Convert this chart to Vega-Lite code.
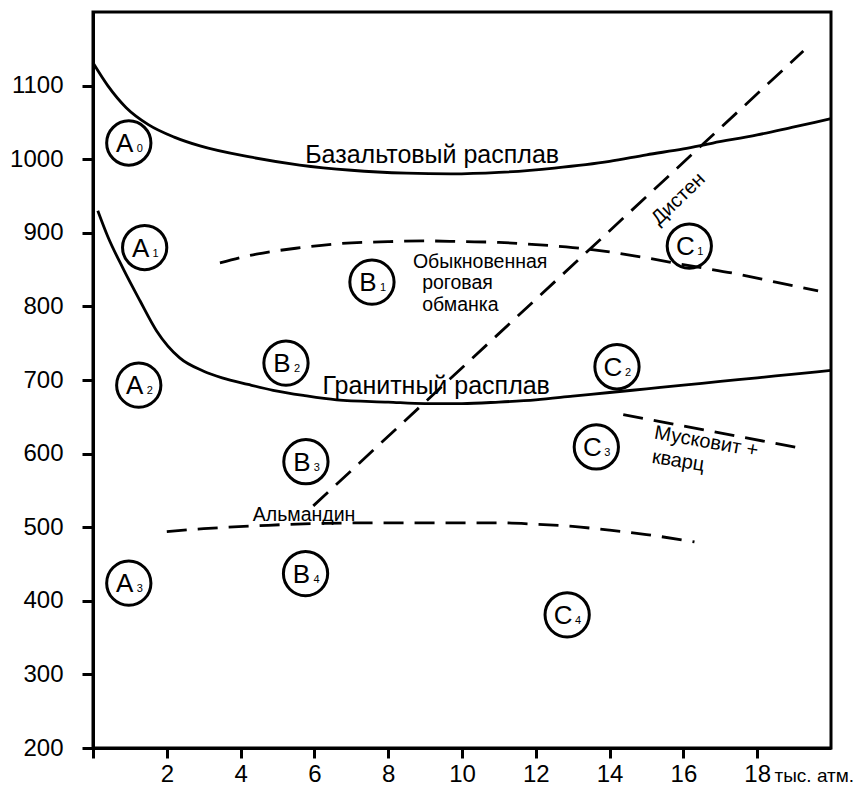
{
  "$schema": "https://vega.github.io/schema/vega-lite/v6.json",
  "width": 738,
  "height": 736,
  "autosize": {"type": "none"},
  "padding": {"left": 93, "top": 12, "right": 37, "bottom": 38},
  "background": "white",
  "config": {
    "font": "Liberation Sans",
    "view": {"stroke": "black", "strokeWidth": 3},
    "axis": {
      "domainColor": "black",
      "domainWidth": 3,
      "tickColor": "black",
      "tickWidth": 3,
      "labelColor": "black",
      "labelFont": "Liberation Sans",
      "labelFontSize": 24,
      "grid": false,
      "titleColor": "black",
      "labelOverlap": false
    }
  },
  "datasets": {
    "melts": [
      {"curve": "basalt", "p": 0, "t": 1131},
      {"curve": "basalt", "p": 0.4, "t": 1100},
      {"curve": "basalt", "p": 0.9, "t": 1070},
      {"curve": "basalt", "p": 1.5, "t": 1047},
      {"curve": "basalt", "p": 2.2, "t": 1030},
      {"curve": "basalt", "p": 2.9, "t": 1018},
      {"curve": "basalt", "p": 4.25, "t": 1003},
      {"curve": "basalt", "p": 5.6, "t": 992},
      {"curve": "basalt", "p": 7, "t": 985},
      {"curve": "basalt", "p": 8.5, "t": 981},
      {"curve": "basalt", "p": 9.7, "t": 980},
      {"curve": "basalt", "p": 11, "t": 982},
      {"curve": "basalt", "p": 12.5, "t": 988},
      {"curve": "basalt", "p": 14, "t": 997},
      {"curve": "basalt", "p": 15, "t": 1006},
      {"curve": "basalt", "p": 16, "t": 1014},
      {"curve": "basalt", "p": 16.8, "t": 1022},
      {"curve": "basalt", "p": 18, "t": 1033},
      {"curve": "basalt", "p": 19, "t": 1044},
      {"curve": "basalt", "p": 20, "t": 1055},
      {"curve": "granite", "p": 0.13, "t": 930},
      {"curve": "granite", "p": 0.4, "t": 895},
      {"curve": "granite", "p": 0.81, "t": 852},
      {"curve": "granite", "p": 1.27, "t": 808},
      {"curve": "granite", "p": 1.72, "t": 767},
      {"curve": "granite", "p": 2.35, "t": 730},
      {"curve": "granite", "p": 3, "t": 712},
      {"curve": "granite", "p": 3.5, "t": 703},
      {"curve": "granite", "p": 4.2, "t": 694},
      {"curve": "granite", "p": 4.88, "t": 686},
      {"curve": "granite", "p": 5.7, "t": 679},
      {"curve": "granite", "p": 6.6, "t": 673},
      {"curve": "granite", "p": 8, "t": 670},
      {"curve": "granite", "p": 9, "t": 668},
      {"curve": "granite", "p": 10, "t": 668},
      {"curve": "granite", "p": 11, "t": 670},
      {"curve": "granite", "p": 12, "t": 673},
      {"curve": "granite", "p": 13, "t": 678},
      {"curve": "granite", "p": 14, "t": 683},
      {"curve": "granite", "p": 15, "t": 688},
      {"curve": "granite", "p": 16, "t": 693},
      {"curve": "granite", "p": 17, "t": 698},
      {"curve": "granite", "p": 18, "t": 703},
      {"curve": "granite", "p": 19, "t": 708},
      {"curve": "granite", "p": 20, "t": 713}
    ],
    "boundaries": [
      {"curve": "hornblende", "p": 3.44, "t": 859},
      {"curve": "hornblende", "p": 4.43, "t": 871},
      {"curve": "hornblende", "p": 5.5, "t": 879},
      {"curve": "hornblende", "p": 6.6, "t": 885},
      {"curve": "hornblende", "p": 8, "t": 888},
      {"curve": "hornblende", "p": 9, "t": 889},
      {"curve": "hornblende", "p": 10, "t": 888},
      {"curve": "hornblende", "p": 11, "t": 887},
      {"curve": "hornblende", "p": 12, "t": 884},
      {"curve": "hornblende", "p": 13, "t": 880},
      {"curve": "hornblende", "p": 14, "t": 874},
      {"curve": "hornblende", "p": 15.1, "t": 865},
      {"curve": "hornblende", "p": 16.2, "t": 855},
      {"curve": "hornblende", "p": 17.46, "t": 844},
      {"curve": "hornblende", "p": 18.5, "t": 833},
      {"curve": "hornblende", "p": 19.65, "t": 821},
      {"curve": "disthene", "p": 5.97, "t": 529},
      {"curve": "disthene", "p": 19.25, "t": 1147},
      {"curve": "almandine", "p": 2, "t": 494},
      {"curve": "almandine", "p": 3, "t": 498},
      {"curve": "almandine", "p": 4.5, "t": 502},
      {"curve": "almandine", "p": 6, "t": 505},
      {"curve": "almandine", "p": 8, "t": 506},
      {"curve": "almandine", "p": 10, "t": 506},
      {"curve": "almandine", "p": 11, "t": 506},
      {"curve": "almandine", "p": 12, "t": 504},
      {"curve": "almandine", "p": 13, "t": 501},
      {"curve": "almandine", "p": 14, "t": 496},
      {"curve": "almandine", "p": 15, "t": 490},
      {"curve": "almandine", "p": 16.3, "t": 480},
      {"curve": "muscovite", "p": 14.37, "t": 653},
      {"curve": "muscovite", "p": 19.22, "t": 607}
    ],
    "samples": [
      {"letter": "A", "sub": "0", "p": 0.97, "t": 1022},
      {"letter": "A", "sub": "1", "p": 1.4, "t": 880},
      {"letter": "A", "sub": "2", "p": 1.24, "t": 693},
      {"letter": "A", "sub": "3", "p": 0.97, "t": 424},
      {"letter": "B", "sub": "1", "p": 7.56, "t": 833},
      {"letter": "B", "sub": "2", "p": 5.23, "t": 723},
      {"letter": "B", "sub": "3", "p": 5.77, "t": 589},
      {"letter": "B", "sub": "4", "p": 5.76, "t": 437},
      {"letter": "C", "sub": "1", "p": 16.16, "t": 882},
      {"letter": "C", "sub": "2", "p": 14.2, "t": 718},
      {"letter": "C", "sub": "3", "p": 13.64, "t": 609},
      {"letter": "C", "sub": "4", "p": 12.85, "t": 381}
    ],
    "labels": [
      {"group": "melt", "text": "Базальтовый расплав", "p": 9.19, "t": 995},
      {"group": "melt", "text": "Гранитный расплав", "p": 9.3, "t": 681},
      {"group": "mineral", "text": "Обыкновенная", "p": 8.67, "t": 852},
      {"group": "mineral", "text": "роговая", "p": 8.92, "t": 824},
      {"group": "mineral", "text": "обманка", "p": 8.92, "t": 794},
      {"group": "mineral", "text": "Альмандин", "p": 4.33, "t": 509},
      {"group": "disthene", "text": "Дистен", "p": 15.86, "t": 946},
      {"group": "muscovite1", "text": "Мусковит +", "p": 16.62, "t": 616},
      {"group": "muscovite2", "text": "кварц", "p": 15.86, "t": 590}
    ]
  },
  "encoding": {
    "x": {
      "field": "p",
      "type": "quantitative",
      "scale": {"domain": [0, 20], "nice": false, "zero": false},
      "axis": {
        "values": [0, 2, 4, 6, 8, 10, 12, 14, 16, 18],
        "labelExpr": "datum.value == 0 ? '' : datum.label",
        "tickSize": 10,
        "tickWidth": 3,
        "domainWidth": 3,
        "labelPadding": 4,
        "labelFlush": false,
        "title": "тыс. атм.",
        "titleFontSize": 19,
        "titleFontWeight": "normal",
        "titleX": 681,
        "titleY": 33,
        "titleAlign": "left",
        "titleBaseline": "alphabetic"
      }
    },
    "y": {
      "field": "t",
      "type": "quantitative",
      "scale": {"domain": [200, 1200], "nice": false, "zero": false},
      "axis": {
        "values": [200, 300, 400, 500, 600, 700, 800, 900, 1000, 1100],
        "format": "d",
        "tickSize": 11,
        "tickWidth": 3,
        "domainWidth": 3,
        "labelPadding": 19,
        "title": null
      }
    }
  },
  "layer": [
    {
      "data": {"name": "melts"},
      "mark": {"type": "line", "color": "black", "strokeWidth": 2.8, "interpolate": "monotone"},
      "encoding": {"detail": {"field": "curve"}}
    },
    {
      "data": {"name": "boundaries"},
      "mark": {"type": "line", "color": "black", "strokeWidth": 2.8, "interpolate": "monotone", "strokeDash": [20, 11], "strokeCap": "butt"},
      "encoding": {"detail": {"field": "curve"}}
    },
    {
      "data": {"name": "samples"},
      "mark": {"type": "point", "shape": "circle", "size": 1960, "filled": false, "color": "black", "strokeWidth": 3, "opacity": 1}
    },
    {
      "data": {"name": "samples"},
      "mark": {"type": "text", "fontSize": 26, "dx": -4, "dy": 9, "align": "center", "baseline": "alphabetic", "color": "black"},
      "encoding": {"text": {"field": "letter"}}
    },
    {
      "data": {"name": "samples"},
      "mark": {"type": "text", "fontSize": 11, "dx": 11, "dy": 9, "align": "center", "baseline": "alphabetic", "color": "black"},
      "encoding": {"text": {"field": "sub"}}
    },
    {
      "data": {"name": "labels"},
      "transform": [{"filter": "datum.group == 'melt'"}],
      "mark": {"type": "text", "fontSize": 25, "align": "center", "baseline": "alphabetic", "color": "black"},
      "encoding": {"text": {"field": "text"}}
    },
    {
      "data": {"name": "labels"},
      "transform": [{"filter": "datum.group == 'mineral'"}],
      "mark": {"type": "text", "fontSize": 19.5, "align": "left", "baseline": "alphabetic", "color": "black"},
      "encoding": {"text": {"field": "text"}}
    },
    {
      "data": {"name": "labels"},
      "transform": [{"filter": "datum.group == 'disthene'"}],
      "mark": {"type": "text", "fontSize": 20, "align": "center", "baseline": "middle", "angle": -44, "color": "black"},
      "encoding": {"text": {"field": "text"}}
    },
    {
      "data": {"name": "labels"},
      "transform": [{"filter": "datum.group == 'muscovite1'"}],
      "mark": {"type": "text", "fontSize": 20, "align": "center", "baseline": "middle", "angle": 10, "color": "black"},
      "encoding": {"text": {"field": "text"}}
    },
    {
      "data": {"name": "labels"},
      "transform": [{"filter": "datum.group == 'muscovite2'"}],
      "mark": {"type": "text", "fontSize": 20, "align": "center", "baseline": "middle", "angle": 9, "color": "black"},
      "encoding": {"text": {"field": "text"}}
    }
  ]
}
